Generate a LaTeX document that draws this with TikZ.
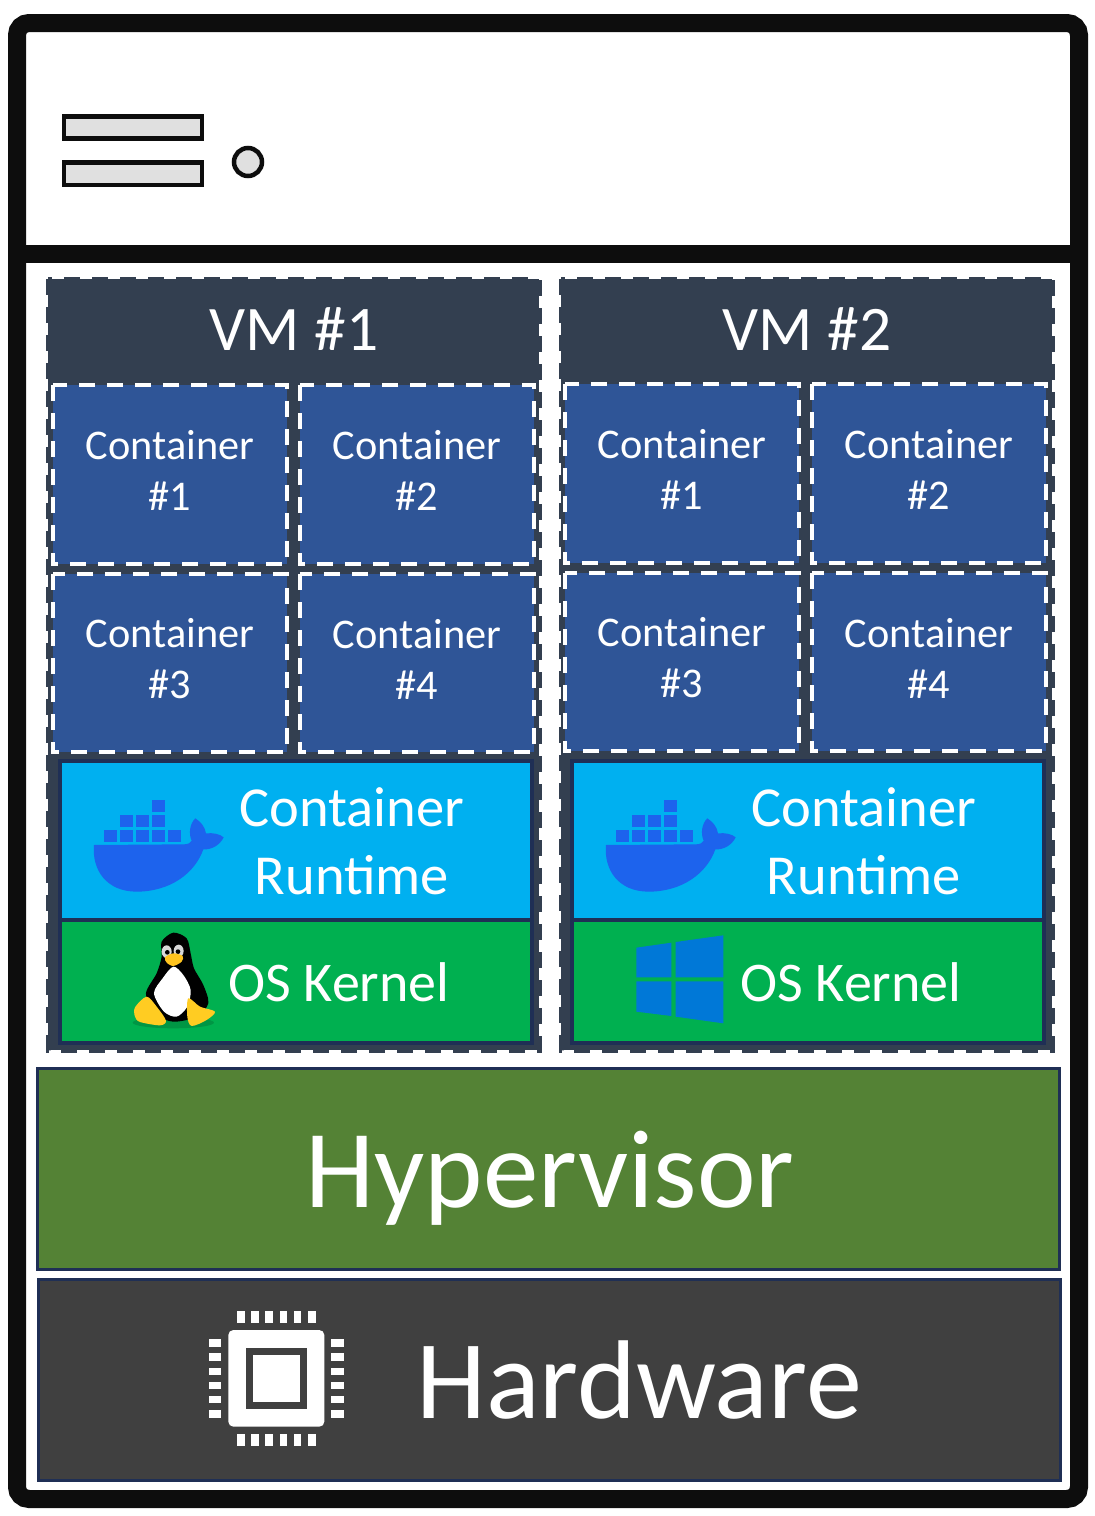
\documentclass[tikz,border=0pt]{standalone}
\usepackage{fontspec}
\setmainfont{Carlito}
\usetikzlibrary{calc}
\definecolor{vmdark}{HTML}{333F50}
\definecolor{contblue}{HTML}{2F5597}
\definecolor{navy}{HTML}{1F2F55}
\definecolor{rtblue}{HTML}{00B0F0}
\definecolor{kgreen}{HTML}{00B050}
\definecolor{hvgreen}{HTML}{548235}
\definecolor{hwgrey}{HTML}{404040}
\definecolor{slotgrey}{HTML}{E0E0E0}
\definecolor{chassis}{HTML}{0D0D0D}
\definecolor{whale}{HTML}{1D63ED}
\definecolor{winblue}{HTML}{0078D7}
\definecolor{tuxfoot}{HTML}{FFCC22}
\tikzset{
  slotbox/.style={draw=chassis,line width=4.5pt,fill=slotgrey},
  vmbox/.style={draw=vmdark,fill=vmdark,line width=5pt,dash pattern=on 16pt off 12pt},
  contbox/.style={draw=white,fill=contblue,line width=4pt,dash pattern=on 16pt off 12pt},
  layerbox/.style={draw=navy,line width=4pt},
  basebox/.style={draw=navy,line width=3pt},
  whitetext/.style={text=white,inner sep=0pt,align=center},
  conttext/.style={whitetext,font=\fontsize{42.3}{51}\selectfont},
  rttext/.style={whitetext,font=\fontsize{56.5}{68}\selectfont},
  kerntext/.style={whitetext,font=\fontsize{56}{60}\selectfont},
  vmtext/.style={whitetext,font=\fontsize{63.5}{70}\selectfont},
  bigtext/.style={whitetext,font=\fontsize{111}{120}\selectfont}
}
\begin{document}
\begin{tikzpicture}[x=1pt,y=-1pt]
  \useasboundingbox (0,0) rectangle (1095,1516);
  % chassis
  \draw[chassis,line width=18pt,fill=white,rounded corners=12pt] (17,23) rectangle (1079,1499);
  \draw[chassis,line width=18pt] (17,254) -- (1079,254);
  \draw[slotbox] (64,116.5) rectangle (202,138.5);
  \draw[slotbox] (64,162.5) rectangle (202,185);
  \draw[slotbox] (248,162) circle (14);
  % virtual machines
  \draw[vmbox] (48,279) rectangle (539,1050);
  \draw[vmbox] (561,279) rectangle (1052,1050);
  \node[vmtext] (vm1) at (294,329) {VM \#1};
  \node[vmtext] (vm2) at (807,329) {VM \#2};
  \foreach \vx/\vy/\vmn in {0/0/1,512/-1/2} {
    \begin{scope}[shift={(\vx,\vy)}]
      \draw[contbox] (53,385) rectangle (287,564);
      \draw[contbox] (300,385) rectangle (534,564);
      \draw[contbox] (53,574) rectangle (287,752);
      \draw[contbox] (300,574) rectangle (534,752);
      \node[conttext] (c\vmn a) at (170,470) {Container\\\#1};
      \node[conttext] (c\vmn b) at (417,470) {Container\\\#2};
      \node[conttext] (c\vmn c) at (170,659) {Container\\\#3};
      \node[conttext] (c\vmn d) at (417,659) {Container\\\#4};
    \end{scope}
    \begin{scope}[shift={(\vx,0)}]
      \draw[layerbox,fill=rtblue] (60,760.5) rectangle (532,920);
      \draw[layerbox,fill=kgreen] (60,920) rectangle (532,1043);
      \node[rttext] (rt\vmn) at (352,841) {Container\\Runtime};
      \node[kerntext] (os\vmn) at (339,982) {OS Kernel};
      % docker whale
      \begin{scope}[shift={(40,750)},x=0.3333pt,y=-0.3333pt]
        \foreach \bx/\by in {335/150,240/195,288/195,335/195,192/240,240/240,288/240,335/240,383/240}
          \fill[whale] (\bx,\by) rectangle ++(40,37);
        \fill[whale] (162,285) -- (432,283) .. controls (445,283) and (452,278) .. (455,272)
          .. controls (445,250) and (450,220) .. (466,205)
          .. controls (482,215) and (495,230) .. (498,250)
          .. controls (520,248) and (540,252) .. (551,262)
          .. controls (540,285) and (515,300) .. (490,298)
          .. controls (465,370) and (390,425) .. (290,425)
          .. controls (200,425) and (155,360) .. (162,285) -- cycle;
      \end{scope}
    \end{scope}
  }
  % tux
  \begin{scope}[shift={(40,750)},x=0.3333pt,y=-0.3333pt]
    \fill[kgreen!85!black] (400,818) ellipse (122 and 17);
    \fill[black] plot[smooth cycle] coordinates {(400,548) (440,565) (452,610) (462,655) (490,705) (505,760) (470,800) (400,815) (340,790) (318,730) (350,670) (365,620) (365,575)};
    \fill[white] plot[smooth cycle] coordinates {(400,650) (430,675) (452,720) (442,770) (410,800) (372,785) (342,730) (368,685)};
    \fill[white!85!black] (380,605) ellipse (15 and 19);
    \fill[white!85!black] (416,603) ellipse (15 and 19);
    \fill[black] (382,607) circle (7);
    \fill[black] (414,605) circle (7);
    \fill[tuxfoot!90!orange] plot[smooth cycle] coordinates {(375,622) (400,610) (428,618) (425,635) (400,648) (380,638)};
    \fill[tuxfoot] plot[smooth cycle] coordinates {(285,772) (320,740) (350,770) (378,812) (360,826) (300,816) (285,800)};
    \fill[tuxfoot] plot[smooth cycle] coordinates {(445,745) (480,770) (525,785) (500,810) (455,828) (442,800)};
  \end{scope}
  % windows logo
  \begin{scope}[shift={(560,900)},x=0.3333pt,y=-0.3333pt]
    \fill[winblue] (229,143) -- (334,128) -- (334,232) -- (229,232) -- cycle;
    \fill[winblue] (347,126) -- (490,106) -- (490,232) -- (347,232) -- cycle;
    \fill[winblue] (229,244) -- (334,244) -- (334,348) -- (229,335) -- cycle;
    \fill[winblue] (347,244) -- (490,244) -- (490,370) -- (347,350) -- cycle;
  \end{scope}
  % hypervisor and hardware
  \draw[basebox,fill=hvgreen] (37,1068) rectangle (1059,1269);
  \draw[basebox,fill=hwgrey] (38,1279) rectangle (1060,1480);
  \node[bigtext] (hv) at (550,1178) {Hypervisor};
  \node[bigtext,font=\fontsize{112}{120}\selectfont] (hw) at (639,1380) {Hardware};
  % chip
  \begin{scope}[shift={(190,1290)},x=0.3333pt,y=-0.3333pt]
    \fill[white,rounded corners=5pt] (115,120) rectangle (403,410);
    \fill[hwgrey] (168,174) rectangle (350,356);
    \fill[white] (190,195) rectangle (329,335);
    \foreach \px in {141,184,226,269,311,354} {
      \fill[white] (\px,62) rectangle ++(23,38);
      \fill[white] (\px,431) rectangle ++(23,38);
    }
    \foreach \py in {148,190,233,276,318,361} {
      \fill[white] (56,\py) rectangle ++(38,22);
      \fill[white] (424,\py) rectangle ++(39,22);
    }
  \end{scope}
\end{tikzpicture}
\end{document}
